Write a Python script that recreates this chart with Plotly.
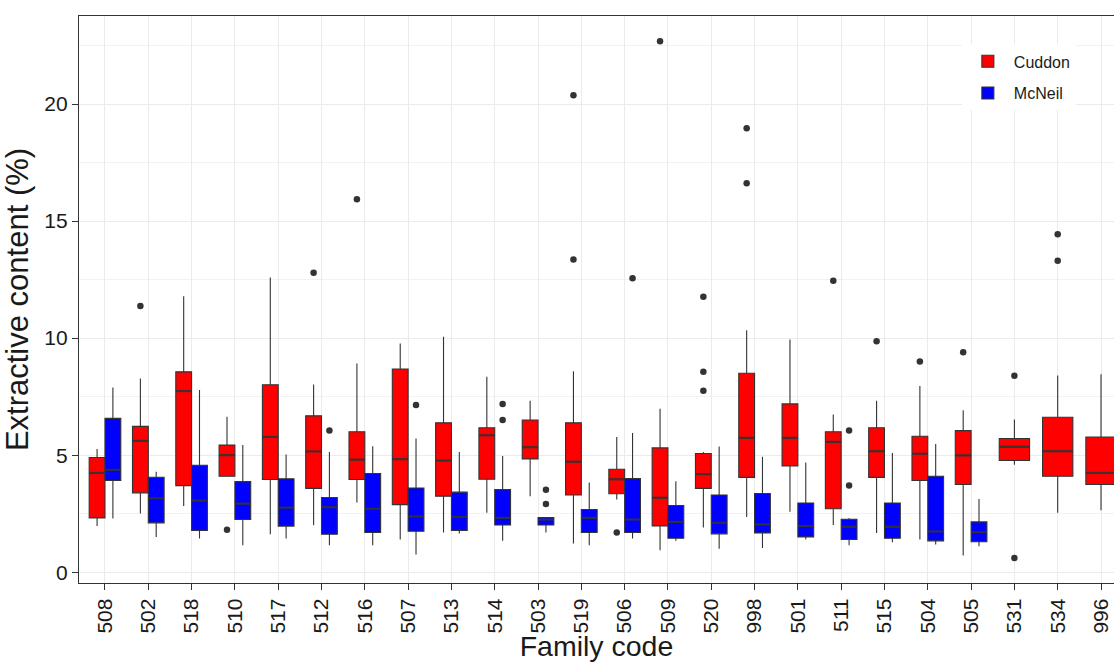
import numpy as np
import plotly.graph_objects as go

families = ["508", "502", "518", "510", "517", "512", "516", "507", "513", "514", "503", "519",
            "506", "509", "520", "998", "501", "511", "515", "504", "505", "531", "534", "996"]

# Cuddon box statistics (per family, same order as families)
cud_q1  = [2.32, 3.39, 3.70, 4.10, 3.96, 3.58, 3.96, 2.89, 3.25, 3.97, 4.84, 3.30,
           3.35, 1.98, 3.58, 4.05, 4.54, 2.71, 4.05, 3.92, 3.75, 4.77, 4.10, 3.75]
cud_med = [4.24, 5.61, 7.74, 5.00, 5.78, 5.16, 4.81, 4.83, 4.77, 5.85, 5.34, 4.72,
           3.97, 3.18, 4.19, 5.74, 5.74, 5.57, 5.17, 5.06, 4.99, 5.36, 5.17, 4.24]
cud_q3  = [4.90, 6.23, 8.56, 5.43, 8.01, 6.68, 6.00, 8.68, 6.38, 6.17, 6.50, 6.38,
           4.40, 5.31, 5.07, 8.50, 7.19, 6.00, 6.17, 5.81, 6.05, 5.71, 6.62, 5.77]
cud_lo  = [1.97, 2.51, 2.83, 4.10, 1.62, 2.01, 2.98, 1.40, 1.70, 2.54, 3.25, 1.23,
           3.11, 0.94, 1.91, 2.36, 2.58, 2.02, 1.68, 1.40, 0.71, 4.59, 2.54, 2.65]
cud_hi  = [5.26, 8.28, 11.79, 6.64, 12.59, 8.02, 8.92, 9.77, 10.06, 8.35, 7.32, 8.58,
           5.78, 6.98, 5.14, 10.34, 9.94, 6.74, 7.32, 7.95, 6.92, 6.52, 8.40, 8.46]

# McNeil box statistics (None = no McNeil samples for that family)
mcn_q1  = [3.92, 2.11, 1.79, 2.25, 1.97, 1.62, 1.70, 1.75, 1.79, 2.02, 2.02, 1.70,
           1.70, 1.45, 1.64, 1.68, 1.51, 1.40, 1.45, 1.34, 1.30, None, None, None]
mcn_med = [4.37, 3.16, 3.06, 2.93, 2.76, 2.78, 2.71, 2.38, 2.36, 2.32, 2.25, 2.32,
           2.25, 2.15, 2.11, 2.04, 1.97, 1.94, 1.94, 1.74, 1.71, None, None, None]
mcn_q3  = [6.57, 4.06, 4.57, 3.87, 3.99, 3.19, 4.22, 3.60, 3.42, 3.53, 2.34, 2.68,
           4.00, 2.85, 3.30, 3.36, 2.96, 2.26, 2.96, 4.10, 2.15, None, None, None]
mcn_lo  = [2.29, 1.51, 1.44, 1.15, 1.44, 1.15, 1.15, 0.76, 1.65, 1.34, 1.70, 1.15,
           1.44, 1.34, 1.00, 1.04, 1.40, 1.15, 1.28, 1.18, 1.11, None, None, None]
mcn_hi  = [7.89, 4.29, 7.78, 5.43, 5.03, 5.14, 5.38, 5.71, 5.14, 4.97, 2.34, 3.83,
           5.95, 3.89, 5.37, 4.93, 4.69, 2.32, 5.09, 5.48, 3.13, None, None, None]

# Outliers
cud_outliers = {"502": [11.37], "510": [1.81], "512": [12.79], "516": [15.93],
                "519": [20.38, 13.36], "506": [1.70], "509": [22.68],
                "520": [11.77, 8.56, 7.75], "998": [18.96, 16.62], "511": [12.45],
                "515": [9.87], "504": [9.00], "505": [9.40], "531": [8.39, 0.61],
                "534": [14.44, 13.30]}
mcn_outliers = {"512": [6.05], "507": [7.14], "514": [7.19, 6.50], "503": [3.52, 2.91],
                "506": [12.56], "511": [6.05, 3.70]}

FONT = "Liberation Sans, Arial, sans-serif"
LINE = "#333333"
PAIR_W = 0.365
SOLO_W = 0.70
off = PAIR_W / 2

idx = np.arange(len(families))
paired = [i for i in idx if mcn_med[i] is not None]
solo = [i for i in idx if mcn_med[i] is None]

def pick(arr, ids):
    return [arr[i] for i in ids]

fig = go.Figure()

common = dict(line=dict(color=LINE, width=1.1), whiskerwidth=0, boxpoints=False,
              hoverinfo="skip")

fig.add_trace(go.Box(name="Cuddon", legendgroup="Cuddon",
                     x=[i - off for i in paired],
                     q1=pick(cud_q1, paired), median=pick(cud_med, paired),
                     q3=pick(cud_q3, paired), lowerfence=pick(cud_lo, paired),
                     upperfence=pick(cud_hi, paired),
                     width=PAIR_W, fillcolor="#FF0000", **common))
fig.add_trace(go.Box(name="Cuddon", legendgroup="Cuddon", showlegend=False,
                     x=[float(i) for i in solo],
                     q1=pick(cud_q1, solo), median=pick(cud_med, solo),
                     q3=pick(cud_q3, solo), lowerfence=pick(cud_lo, solo),
                     upperfence=pick(cud_hi, solo),
                     width=SOLO_W, fillcolor="#FF0000", **common))
fig.add_trace(go.Box(name="McNeil", legendgroup="McNeil",
                     x=[i + off for i in paired],
                     q1=pick(mcn_q1, paired), median=pick(mcn_med, paired),
                     q3=pick(mcn_q3, paired), lowerfence=pick(mcn_lo, paired),
                     upperfence=pick(mcn_hi, paired),
                     width=PAIR_W, fillcolor="#0000FF", **common))

# thicker median bars (ggplot style), derived from the median arrays
mx, my = [], []
for i in idx:
    if mcn_med[i] is None:
        c, w = float(i), SOLO_W
        segs = [(c, w, cud_med[i])]
    else:
        segs = [(i - off, PAIR_W, cud_med[i]), (i + off, PAIR_W, mcn_med[i])]
    for c, w, m in segs:
        mx += [c - w / 2, c + w / 2, None]
        my += [m, m, None]
fig.add_trace(go.Scatter(x=mx, y=my, mode="lines", showlegend=False, hoverinfo="skip",
                         line=dict(color="rgba(51,51,51,0.85)", width=2.2)))

# outlier points
ox, oy = [], []
for fam, vals in cud_outliers.items():
    i = families.index(fam)
    pos = i if mcn_med[i] is None else i - off
    for v in vals:
        ox.append(pos); oy.append(v)
for fam, vals in mcn_outliers.items():
    i = families.index(fam)
    for v in vals:
        ox.append(i + off); oy.append(v)
fig.add_trace(go.Scatter(x=ox, y=oy, mode="markers", showlegend=False, hoverinfo="skip",
                         marker=dict(color="#333333", size=6.5, line=dict(width=0))))

fig.update_layout(
    width=1114, height=662,
    margin=dict(l=79, r=0, t=16, b=79, autoexpand=False),
    paper_bgcolor="white", plot_bgcolor="white",
    boxmode="overlay",
    font=dict(family=FONT, color="#1a1a1a"),
    legend=dict(x=0.853, y=0.95, xanchor="left", yanchor="top",
                bgcolor="white", borderwidth=0,
                font=dict(family=FONT, size=16, color="#1a1a1a"),
                tracegroupgap=8, itemwidth=42),
    xaxis=dict(
        range=[-0.6, 23.3], tickmode="array", tickvals=list(idx), ticktext=families,
        tickangle=-90, tickfont=dict(size=21, family=FONT, color="#1a1a1a"),
        ticks="outside", ticklen=6, tickcolor=LINE, tickwidth=1,
        showgrid=True, gridcolor="#EBEBEB", gridwidth=1,
        showline=True, linecolor=LINE, linewidth=1.3, mirror=True,
        zeroline=False, automargin=False,
        title=dict(text="Family code", font=dict(size=28.5, family=FONT, color="#1a1a1a"),
                   standoff=3),
    ),
    yaxis=dict(
        range=[-0.46, 23.76], tickmode="array", tickvals=[0, 5, 10, 15, 20],
        tickfont=dict(size=21, family=FONT, color="#1a1a1a"),
        ticks="outside", ticklen=6, tickcolor=LINE, tickwidth=1,
        showgrid=True, gridcolor="#EBEBEB", gridwidth=1,
        minor=dict(tickmode="array", tickvals=[2.5, 7.5, 12.5, 17.5, 22.5],
                   showgrid=True, gridcolor="#F2F2F2", gridwidth=0.8, ticks=""),
        showline=True, linecolor=LINE, linewidth=1.3, mirror=False,
        zeroline=False, automargin=False,
        title=dict(text="Extractive content (%)", font=dict(size=31, family=FONT, color="#1a1a1a"),
                   standoff=6),
    ),
)

fig.write_html("out.html")
